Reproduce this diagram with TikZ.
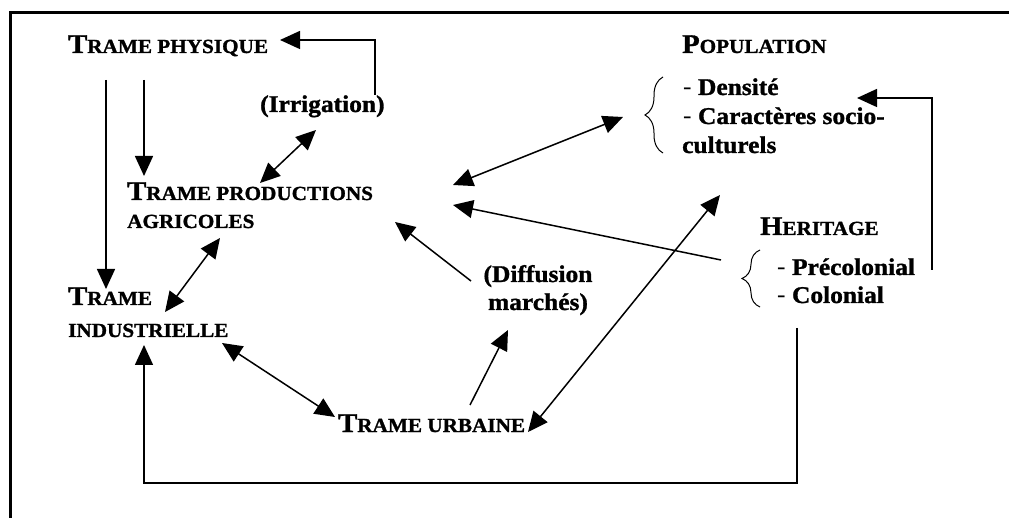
\documentclass[tikz,border=0pt]{standalone}
\usepackage{fontspec}
\setmainfont{Liberation Serif}[FakeStretch=1.06, BoldFeatures={FakeBold=1.2}]
\usetikzlibrary{arrows.meta,decorations.pathreplacing}
\newcommand\smcap[2]{{\fontsize{27}{27}\selectfont #1}{\fontsize{20}{20}\selectfont #2}}
\tikzset{
 lbl/.style={anchor=base west, inner sep=0pt, font=\bfseries\fontsize{24}{29}\selectfont},
 head/.style={anchor=base west, inner sep=0pt, font=\bfseries},
 arr/.style={line width=1.5pt, -{Triangle[length=20pt,width=18pt]}},
 darr/.style={line width=1.5pt, {Triangle[length=20pt,width=18pt]}-{Triangle[length=20pt,width=18pt]}},
 framel/.style={line width=3pt},
 brc/.style={decorate, decoration={brace, amplitude=18pt}, line width=1pt}
}
\begin{document}
\begin{tikzpicture}[x=1pt,y=-1pt]
\useasboundingbox (0,0) rectangle (1009,518);
% frame
\draw[framel] (1009,13) -- (10,13) -- (10,518);
% texts
\node[head] (phys) at (68,53) {\smcap{T}{RAME PHYSIQUE}};
\node[lbl] (irr) at (260,112) {(Irrigation)};
\node[head] (agr1) at (127,200) {\smcap{T}{RAME PRODUCTIONS}};
\node[head] (agr2) at (127,228) {\smcap{}{AGRICOLES}};
\node[head] (ind1) at (68,305) {\smcap{T}{RAME}};
\node[head] (ind2) at (68,337) {\smcap{}{INDUSTRIELLE}};
\node[head] (urb) at (338,432) {\smcap{T}{RAME URBAINE}};
\node[lbl, anchor=base] (dif1) at (538,282) {(Diffusion};
\node[lbl, anchor=base] (dif2) at (538,310) {marchés)};
\node[head] (pop) at (682,53) {\smcap{P}{OPULATION}};
\node[lbl] (pop1) at (683,95) {{\mdseries-} Densité};
\node[lbl] (pop2) at (683,124) {{\mdseries-} Caractères socio-};
\node[lbl] (pop3) at (682,153) {culturels};
\node[head] (her) at (760,235) {\smcap{H}{ERITAGE}};
\node[lbl] (her1) at (777,275) {{\mdseries-} Précolonial};
\node[lbl] (her2) at (777,303) {{\mdseries-} Colonial};
% braces
\coordinate (pbB) at (663,153); \coordinate (pbT) at (663,77);
\coordinate (hbB) at (760,307); \coordinate (hbT) at (760,250);
\draw[brc] (pbB) -- (pbT);
\draw[brc] (hbB) -- (hbT);
% connector end points
\coordinate (irrTop) at (375,95); \coordinate (irrCorner) at (375,40); \coordinate (physE) at (280,40);
\coordinate (physS1) at (106,80); \coordinate (indN) at (106,289);
\coordinate (physS2) at (144,80); \coordinate (agrN) at (144,176);
\coordinate (irrSW) at (316,130); \coordinate (agrNE) at (260,183);
\coordinate (agrS) at (220,238); \coordinate (indNE) at (165,312);
\coordinate (difNW) at (471,281); \coordinate (agrSE) at (395,222);
\coordinate (indSE) at (222,343); \coordinate (urbW) at (335,417);
\coordinate (urbNE) at (470,405); \coordinate (difS) at (508,330);
\coordinate (urbE) at (528,432); \coordinate (popSW) at (720,195);
\coordinate (agrE1) at (453,185); \coordinate (popW) at (623,117);
\coordinate (herW) at (721,260); \coordinate (agrE2) at (453,205);
\coordinate (herE) at (932,270); \coordinate (denC) at (932,98); \coordinate (denE) at (857,98);
\coordinate (herS) at (797,328); \coordinate (bR) at (797,483); \coordinate (bL) at (144,483); \coordinate (indS) at (144,345);
% connectors
\draw[arr] (irrTop) -- (irrCorner) -- (physE);
\draw[arr] (physS1) -- (indN);
\draw[arr] (physS2) -- (agrN);
\draw[darr] (irrSW) -- (agrNE);
\draw[darr] (agrS) -- (indNE);
\draw[arr] (difNW) -- (agrSE);
\draw[darr] (indSE) -- (urbW);
\draw[arr] (urbNE) -- (difS);
\draw[darr] (urbE) -- (popSW);
\draw[darr] (agrE1) -- (popW);
\draw[arr] (herW) -- (agrE2);
\draw[arr] (herE) -- (denC) -- (denE);
\draw[arr] (herS) -- (bR) -- (bL) -- (indS);
\end{tikzpicture}
\end{document}
